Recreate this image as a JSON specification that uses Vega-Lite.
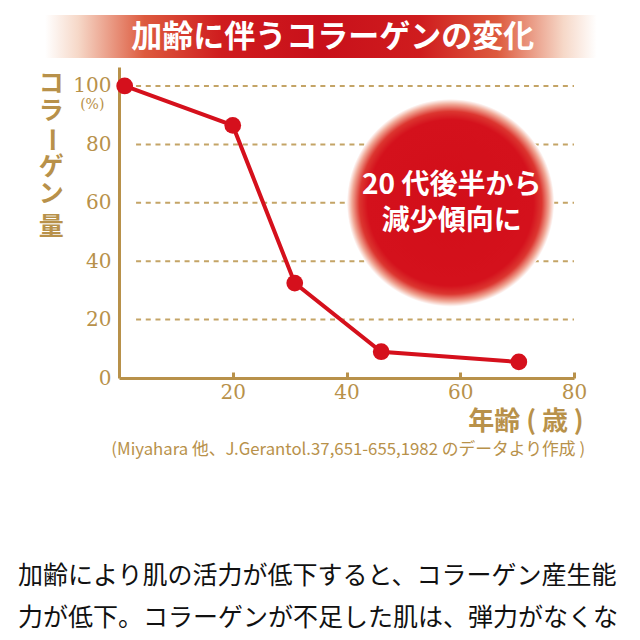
{
  "$schema": "https://vega.github.io/schema/vega-lite/v6.json",
  "width": 455,
  "height": 311,
  "autosize": {"type": "none"},
  "padding": {"left": 119, "top": 67, "right": 66, "bottom": 262},
  "background": "white",
  "data": {"values": [{}]},
  "config": {
    "view": {"stroke": null},
    "axis": {"grid": false}
  },
  "datasets": {
    "collagen": [
      {"age": 1, "amount": 100},
      {"age": 20, "amount": 86.5},
      {"age": 30.9, "amount": 32.5},
      {"age": 46.1, "amount": 9},
      {"age": 70.3, "amount": 5.5}
    ],
    "grid": [
      {"level": 20},
      {"level": 40},
      {"level": 60},
      {"level": 80},
      {"level": 100}
    ]
  },
  "layer": [
    {
      "mark": {
        "type": "rect",
        "fill": {
          "gradient": "linear",
          "x1": 0, "y1": 0, "x2": 1, "y2": 0,
          "stops": [
            {"offset": 0, "color": "#ffffff"},
            {"offset": 0.06, "color": "#f6d8c8"},
            {"offset": 0.18, "color": "#dd5a3e"},
            {"offset": 0.32, "color": "#cf1c1e"},
            {"offset": 0.5, "color": "#c8101a"},
            {"offset": 0.68, "color": "#cf1c1e"},
            {"offset": 0.82, "color": "#dd5a3e"},
            {"offset": 0.94, "color": "#f6d8c8"},
            {"offset": 1, "color": "#ffffff"}
          ]
        }
      },
      "encoding": {
        "x": {"datum": -13, "type": "quantitative", "scale": {"domain": [0, 80], "nice": false}},
        "x2": {"datum": 84},
        "y": {"datum": 124.3, "type": "quantitative", "scale": {"domain": [0, 106.5], "nice": false}},
        "y2": {"datum": 109.6}
      }
    },
    {
      "mark": {"type": "text", "text": "加齢に伴うコラーゲンの変化", "font": "Noto Sans CJK JP", "fontWeight": "bold", "fontSize": 31, "color": "#ffffff", "align": "center", "baseline": "middle"},
      "encoding": {
        "x": {"datum": 37.6, "type": "quantitative"},
        "y": {"datum": 116.6, "type": "quantitative"}
      }
    },
    {
      "data": {"name": "grid"},
      "mark": {"type": "rule", "color": "#c4a466", "strokeWidth": 2, "strokeDash": [5, 4.7]},
      "encoding": {
        "x": {"datum": 3, "type": "quantitative"},
        "x2": {"datum": 80},
        "y": {"field": "level", "type": "quantitative"}
      }
    },
    {
      "data": {"name": "collagen"},
      "mark": {"type": "line", "color": "#d5101c", "strokeWidth": 4},
      "encoding": {
        "x": {
          "field": "age", "type": "quantitative",
          "scale": {"domain": [0, 80], "nice": false},
          "axis": {
            "values": [20, 40, 60, 80],
            "title": null,
            "domainColor": "#b8914a",
            "domainWidth": 3,
            "ticks": true,
            "tickColor": "#b8914a",
            "tickWidth": 3,
            "tickSize": -6,
            "labelPadding": 10,
            "labelFlush": false,
            "labelFont": "DejaVu Serif",
            "labelFontSize": 20,
            "labelColor": "#b8914a"
          }
        },
        "y": {
          "field": "amount", "type": "quantitative",
          "scale": {"domain": [0, 106.5], "nice": false},
          "axis": {
            "values": [0, 20, 40, 60, 80, 100],
            "title": null,
            "domainColor": "#b8914a",
            "domainWidth": 3,
            "ticks": false,
            "labelPadding": 8,
            "labelFlush": false,
            "labelFont": "DejaVu Serif",
            "labelFontSize": 20,
            "labelColor": "#b8914a"
          }
        }
      }
    },
    {
      "data": {"name": "collagen"},
      "mark": {"type": "point", "shape": "circle", "filled": true, "color": "#d5101c", "size": 280, "opacity": 1},
      "encoding": {
        "x": {"field": "age", "type": "quantitative"},
        "y": {"field": "amount", "type": "quantitative"}
      }
    },
    {
      "mark": {
        "type": "point", "shape": "circle", "filled": true, "size": 43000, "opacity": 1,
        "fill": {
          "gradient": "radial",
          "x1": 0.5, "y1": 0.5, "r1": 0,
          "x2": 0.5, "y2": 0.5, "r2": 0.5,
          "stops": [
            {"offset": 0, "color": "#d20e19"},
            {"offset": 0.8, "color": "#d4111c"},
            {"offset": 0.88, "color": "#dc3630"},
            {"offset": 0.95, "color": "#f0a896"},
            {"offset": 1, "color": "#ffffff"}
          ]
        }
      },
      "encoding": {
        "x": {"datum": 58.3, "type": "quantitative"},
        "y": {"datum": 60, "type": "quantitative"}
      }
    },
    {
      "mark": {"type": "text", "text": ["20 代後半から", "減少傾向に"], "font": "Noto Sans CJK JP", "fontWeight": "bold", "fontSize": 28, "lineHeight": 36, "color": "#ffffff", "align": "center", "baseline": "middle"},
      "encoding": {
        "x": {"datum": 58.5, "type": "quantitative"},
        "y": {"datum": 65.9, "type": "quantitative"}
      }
    },
    {
      "mark": {"type": "text", "text": "(%)", "font": "DejaVu Serif", "fontSize": 14, "color": "#b8914a", "align": "center", "baseline": "middle"},
      "encoding": {
        "x": {"datum": -4.7, "type": "quantitative"},
        "y": {"datum": 93.5, "type": "quantitative"}
      }
    },
    {
      "mark": {"type": "text", "text": "コ", "font": "Noto Sans CJK JP", "fontWeight": "bold", "fontSize": 25, "color": "#b8914a", "align": "center", "baseline": "middle"},
      "encoding": {
        "x": {"datum": -11.9, "type": "quantitative"},
        "y": {"datum": 100.7, "type": "quantitative"}
      }
    },
    {
      "mark": {"type": "text", "text": "ラ", "font": "Noto Sans CJK JP", "fontWeight": "bold", "fontSize": 25, "color": "#b8914a", "align": "center", "baseline": "middle"},
      "encoding": {
        "x": {"datum": -11.9, "type": "quantitative"},
        "y": {"datum": 91.4, "type": "quantitative"}
      }
    },
    {
      "mark": {"type": "text", "text": "ー", "angle": 90, "font": "Noto Sans CJK JP", "fontWeight": "bold", "fontSize": 25, "color": "#b8914a", "align": "center", "baseline": "middle"},
      "encoding": {
        "x": {"datum": -11.9, "type": "quantitative"},
        "y": {"datum": 81.6, "type": "quantitative"}
      }
    },
    {
      "mark": {"type": "text", "text": "ゲ", "font": "Noto Sans CJK JP", "fontWeight": "bold", "fontSize": 25, "color": "#b8914a", "align": "center", "baseline": "middle"},
      "encoding": {
        "x": {"datum": -11.9, "type": "quantitative"},
        "y": {"datum": 72.3, "type": "quantitative"}
      }
    },
    {
      "mark": {"type": "text", "text": "ン", "font": "Noto Sans CJK JP", "fontWeight": "bold", "fontSize": 25, "color": "#b8914a", "align": "center", "baseline": "middle"},
      "encoding": {
        "x": {"datum": -11.9, "type": "quantitative"},
        "y": {"datum": 63.1, "type": "quantitative"}
      }
    },
    {
      "mark": {"type": "text", "text": "量", "font": "Noto Sans CJK JP", "fontWeight": "bold", "fontSize": 25, "color": "#b8914a", "align": "center", "baseline": "middle"},
      "encoding": {
        "x": {"datum": -11.9, "type": "quantitative"},
        "y": {"datum": 51.7, "type": "quantitative"}
      }
    },
    {
      "mark": {"type": "text", "text": "年齢 ( 歳 )", "font": "Noto Sans CJK JP", "fontWeight": "bold", "fontSize": 26, "color": "#b8914a", "align": "right", "baseline": "middle"},
      "encoding": {
        "x": {"datum": 81.7, "type": "quantitative"},
        "y": {"datum": -15.2, "type": "quantitative"}
      }
    },
    {
      "mark": {"type": "text", "text": "(Miyahara 他、J.Gerantol.37,651-655,1982 のデータより作成 )", "font": "Noto Sans CJK JP", "fontSize": 16.8, "color": "#b8914a", "align": "center", "baseline": "middle"},
      "encoding": {
        "x": {"datum": 40.3, "type": "quantitative"},
        "y": {"datum": -24.8, "type": "quantitative"}
      }
    },
    {
      "mark": {"type": "text", "text": ["加齢により肌の活力が低下すると、コラーゲン産生能", "力が低下。コラーゲンが不足した肌は、弾力がなくな"], "font": "Noto Sans CJK JP", "fontSize": 25, "lineHeight": 42, "color": "#111111", "align": "left", "baseline": "alphabetic"},
      "encoding": {
        "x": {"datum": -17.75, "type": "quantitative"},
        "y": {"datum": -70.5, "type": "quantitative"}
      }
    }
  ]
}
